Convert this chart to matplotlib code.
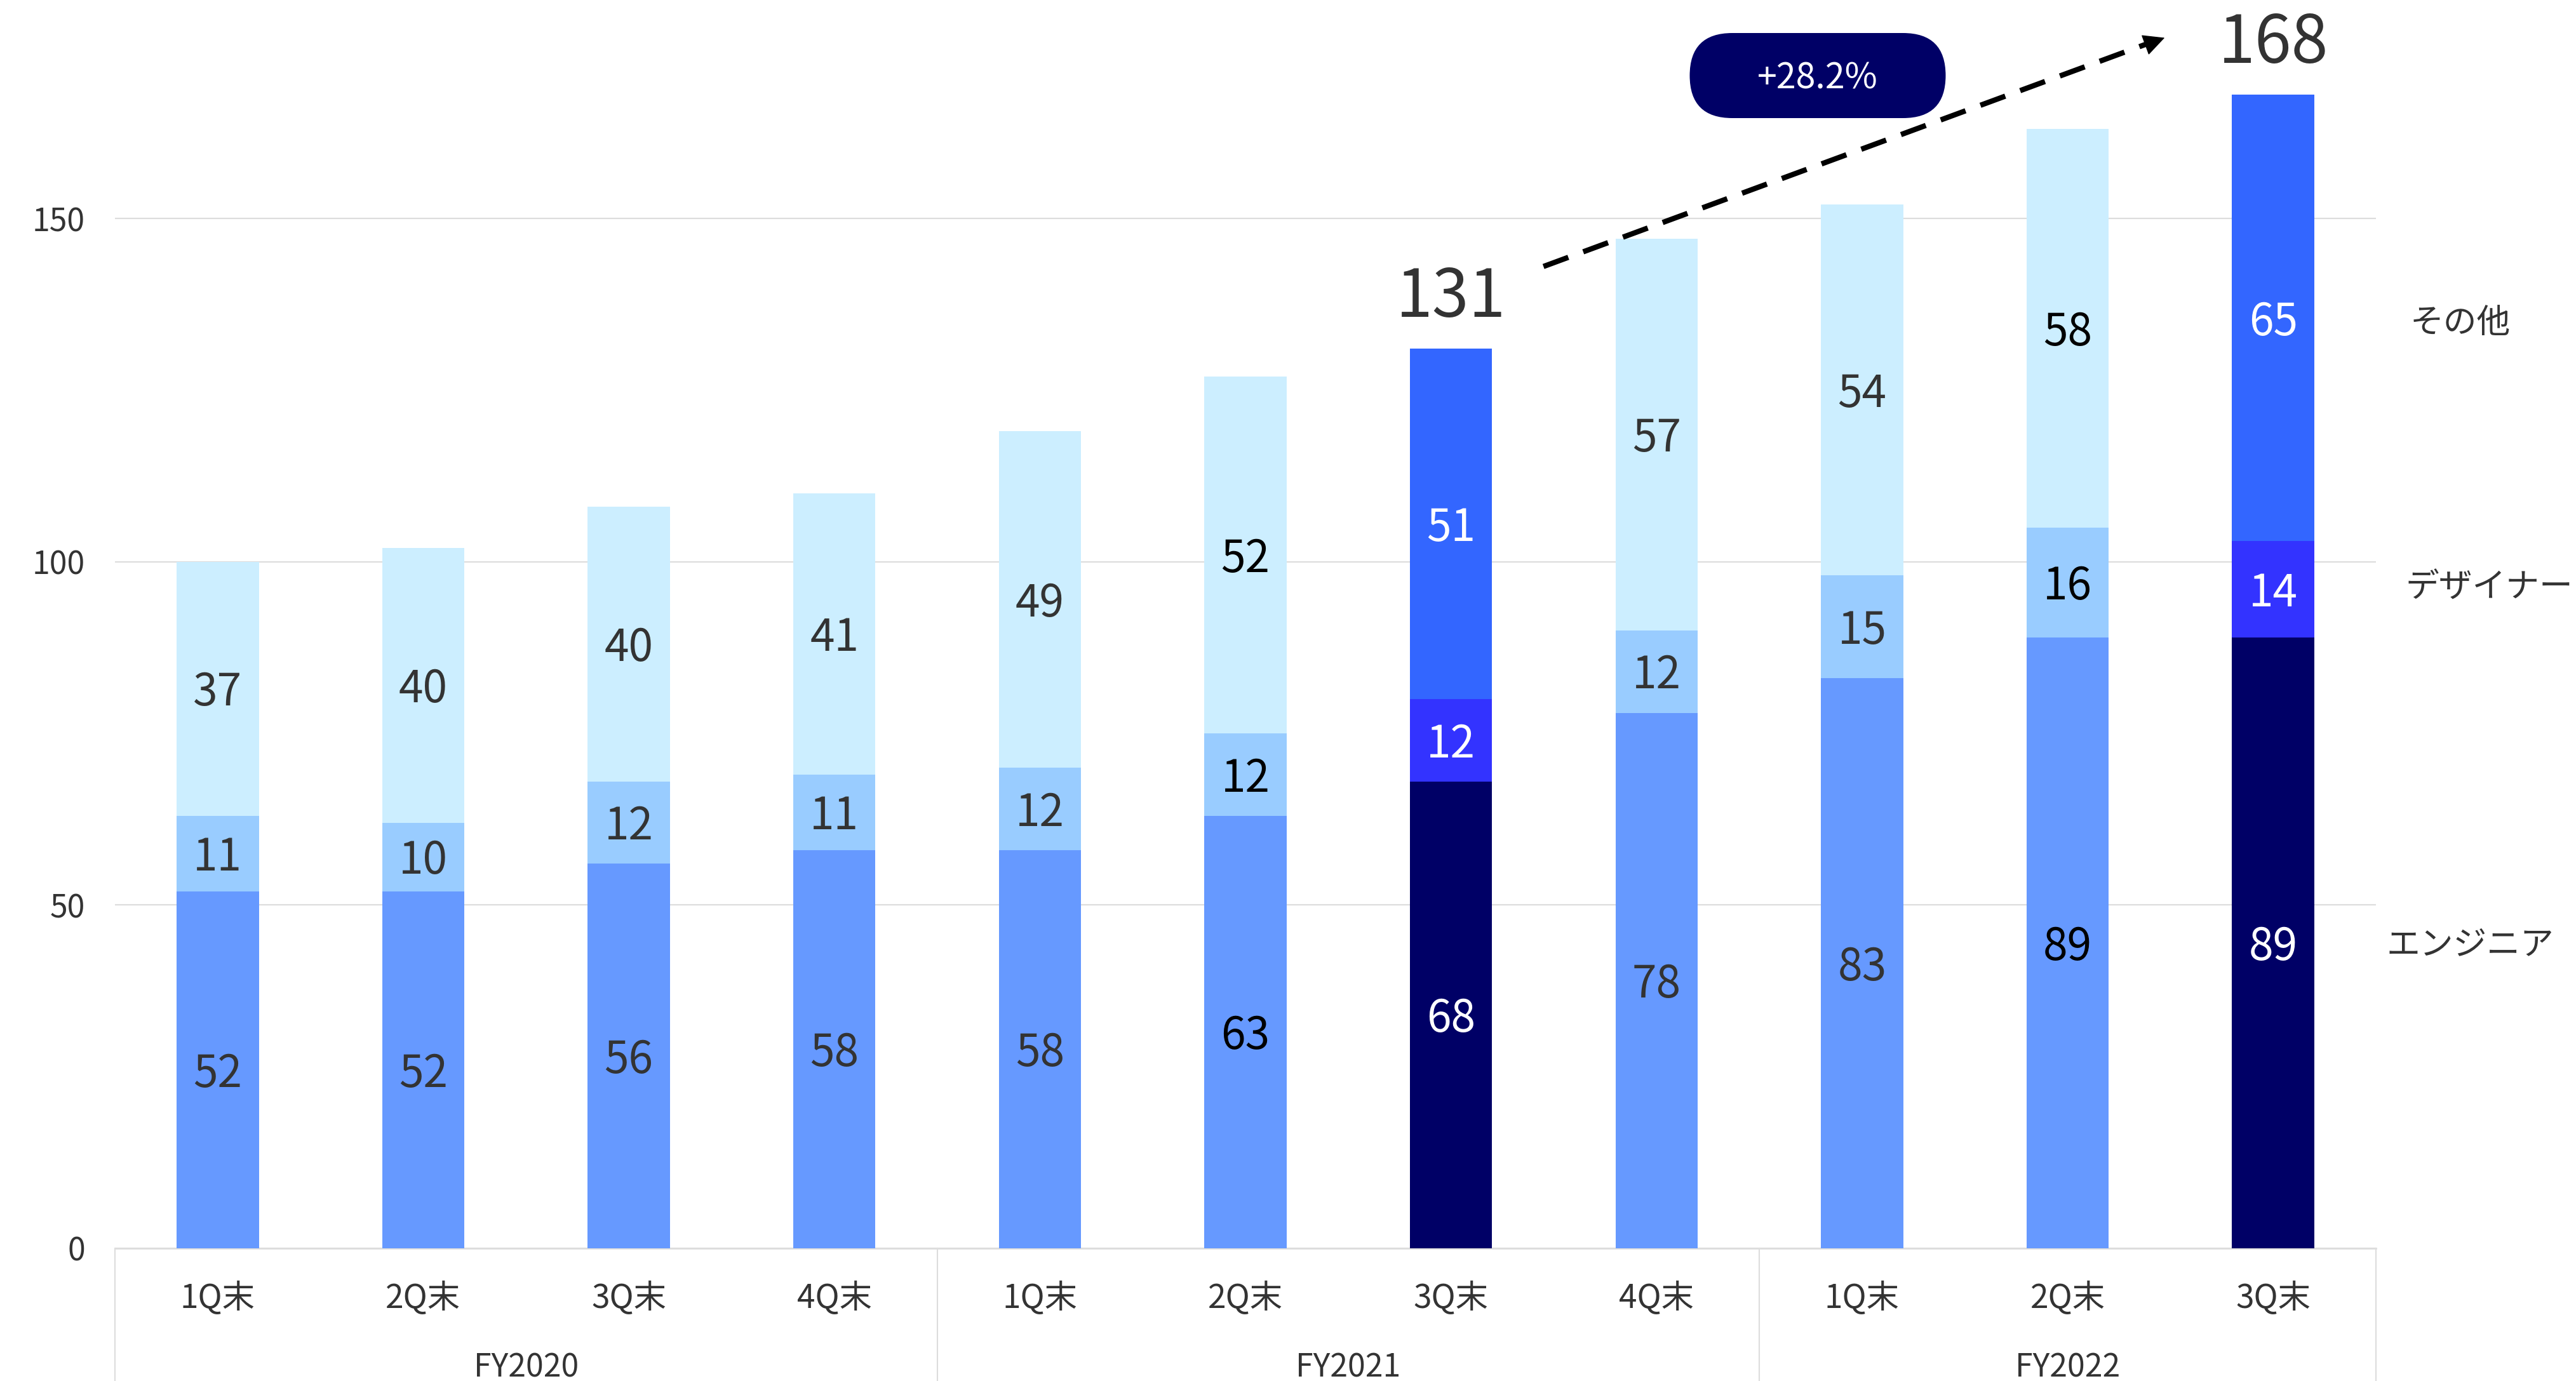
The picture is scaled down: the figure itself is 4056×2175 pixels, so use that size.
import matplotlib
matplotlib.use("Agg")
import matplotlib.pyplot as plt
from matplotlib.patches import FancyBboxPatch
from matplotlib.transforms import offset_copy

plt.rcParams["font.family"] = ["Noto Sans CJK JP", "DejaVu Sans"]

# ---------- data ----------
quarters = ["1Q末", "2Q末", "3Q末", "4Q末",
            "1Q末", "2Q末", "3Q末", "4Q末",
            "1Q末", "2Q末", "3Q末"]
years = ["FY2020", "FY2021", "FY2022"]
year_span = [(0, 3), (4, 7), (8, 10)]
engineer = [52, 52, 56, 58, 58, 63, 68, 78, 83, 89, 89]
designer = [11, 10, 12, 11, 12, 12, 12, 12, 15, 16, 14]
other = [37, 40, 40, 41, 49, 52, 51, 57, 54, 58, 65]
highlight = [6, 10]          # bars drawn in the dark palette
black_label = [5, 9]         # bars whose labels are pure black
series_names = ["エンジニア", "デザイナー", "その他"]
growth_text = "+28.2%"

# ---------- styling ----------
C_NORMAL = ["#6699ff", "#99ccff", "#cceeff"]
C_HIGH = ["#000066", "#3333ff", "#3366ff"]
GRID = "#dddddd"
TXT = "#333333"

W, H, DPI = 4056, 2175, 100
fig = plt.figure(figsize=(W / DPI, H / DPI), dpi=DPI)
ax_l, ax_r, ax_b = 181, 3741, 1966  # pixel geometry
ax = fig.add_axes([ax_l / W, (H - ax_b) / H, (ax_r - ax_l) / W, ax_b / H])
px_per_unit = 1622 / 150
ax.set_ylim(0, ax_b / px_per_unit)
ax.set_xlim(-0.5, len(quarters) - 0.5)

# text sits a few pixels low in the original
low = offset_copy(ax.transData, fig, y=-7, units="dots")

x = list(range(len(quarters)))
bw = 0.4
stacks = [engineer, designer, other]
bottom = [0] * len(x)
for k, vals in enumerate(stacks):
    colors = [C_HIGH[k] if i in highlight else C_NORMAL[k] for i in x]
    ax.bar(x, vals, bw, bottom=bottom, color=colors, zorder=3)
    for i in x:
        if i in highlight:
            c = "white"
        elif i in black_label:
            c = "black"
        else:
            c = TXT
        ax.text(i, bottom[i] + vals[i] / 2, str(vals[i]), ha="center",
                va="center", fontsize=50, color=c, zorder=4, transform=low)
    bottom = [b + v for b, v in zip(bottom, vals)]

totals = bottom
for i in highlight:
    ax.text(i, totals[i] + 8, str(totals[i]), ha="center", va="center",
            fontsize=75, color=TXT, zorder=4, transform=low)

# grid / axes
ax.set_yticks([0, 50, 100, 150])
ax.grid(axis="y", color=GRID, linewidth=1.6, zorder=0)
ax.tick_params(axis="y", length=0, pad=34, labelsize=36, labelcolor=TXT)
ax.set_xticks(x)
ax.set_xticklabels(quarters)
ax.tick_params(axis="x", length=0, pad=38, labelsize=37, labelcolor=TXT)
for s in ["top", "right", "left"]:
    ax.spines[s].set_visible(False)
ax.spines["bottom"].set_color(GRID)
ax.spines["bottom"].set_linewidth(2)

# group separators and year labels
for sx in [-0.5, 3.5, 7.5, 10.5]:
    ax.plot([sx, sx], [0, -0.2], color=GRID, lw=1.5,
            transform=ax.get_xaxis_transform(), clip_on=False)
for name, (a, b) in zip(years, year_span):
    ax.text((a + b) / 2, -0.096, name, ha="center", va="center",
            fontsize=36, color=TXT, transform=ax.get_xaxis_transform())

# series labels on the right
label_pos = [(10.96, 44.8), (11.05, 96.9), (10.91, 135.4)]
for name, (lx, ly) in zip(series_names, label_pos):
    ax.text(lx, ly, name, ha="center", va="center", fontsize=38,
            color=TXT, clip_on=False, transform=low)

# dashed growth arrow
x0, y0 = highlight[0] + 0.45, totals[highlight[0]] + 12
x1, y1 = highlight[1] - 0.52, totals[highlight[1]] + 8.4
ax.plot([x0, x1 - 0.06], [y0, y1 - 0.6], color="black", lw=6,
        linestyle=(0, (5, 3)), clip_on=False, zorder=5)
ax.annotate("", xy=(x1, y1), xytext=(x1 - 0.1, y1 - 1.1),
            arrowprops=dict(arrowstyle="-|>", color="black", lw=1,
                            mutation_scale=55), annotation_clip=False)

# pill badge
cx, cy, pw, ph = 2862 / W, 1 - 119 / H, 403 / W, 134 / H
asp = W / H
fig.add_artist(FancyBboxPatch((cx - pw / 2, cy - ph / 2), pw, ph,
                              boxstyle=f"round,pad=0,rounding_size={ph / 2 / asp}",
                              mutation_aspect=asp, transform=fig.transFigure,
                              facecolor="#000066", edgecolor="none"))
fig.text(cx, cy - 5 / H, growth_text, ha="center", va="center", fontsize=40,
         color="white")

fig.savefig("out.png", dpi=DPI, facecolor="white")
